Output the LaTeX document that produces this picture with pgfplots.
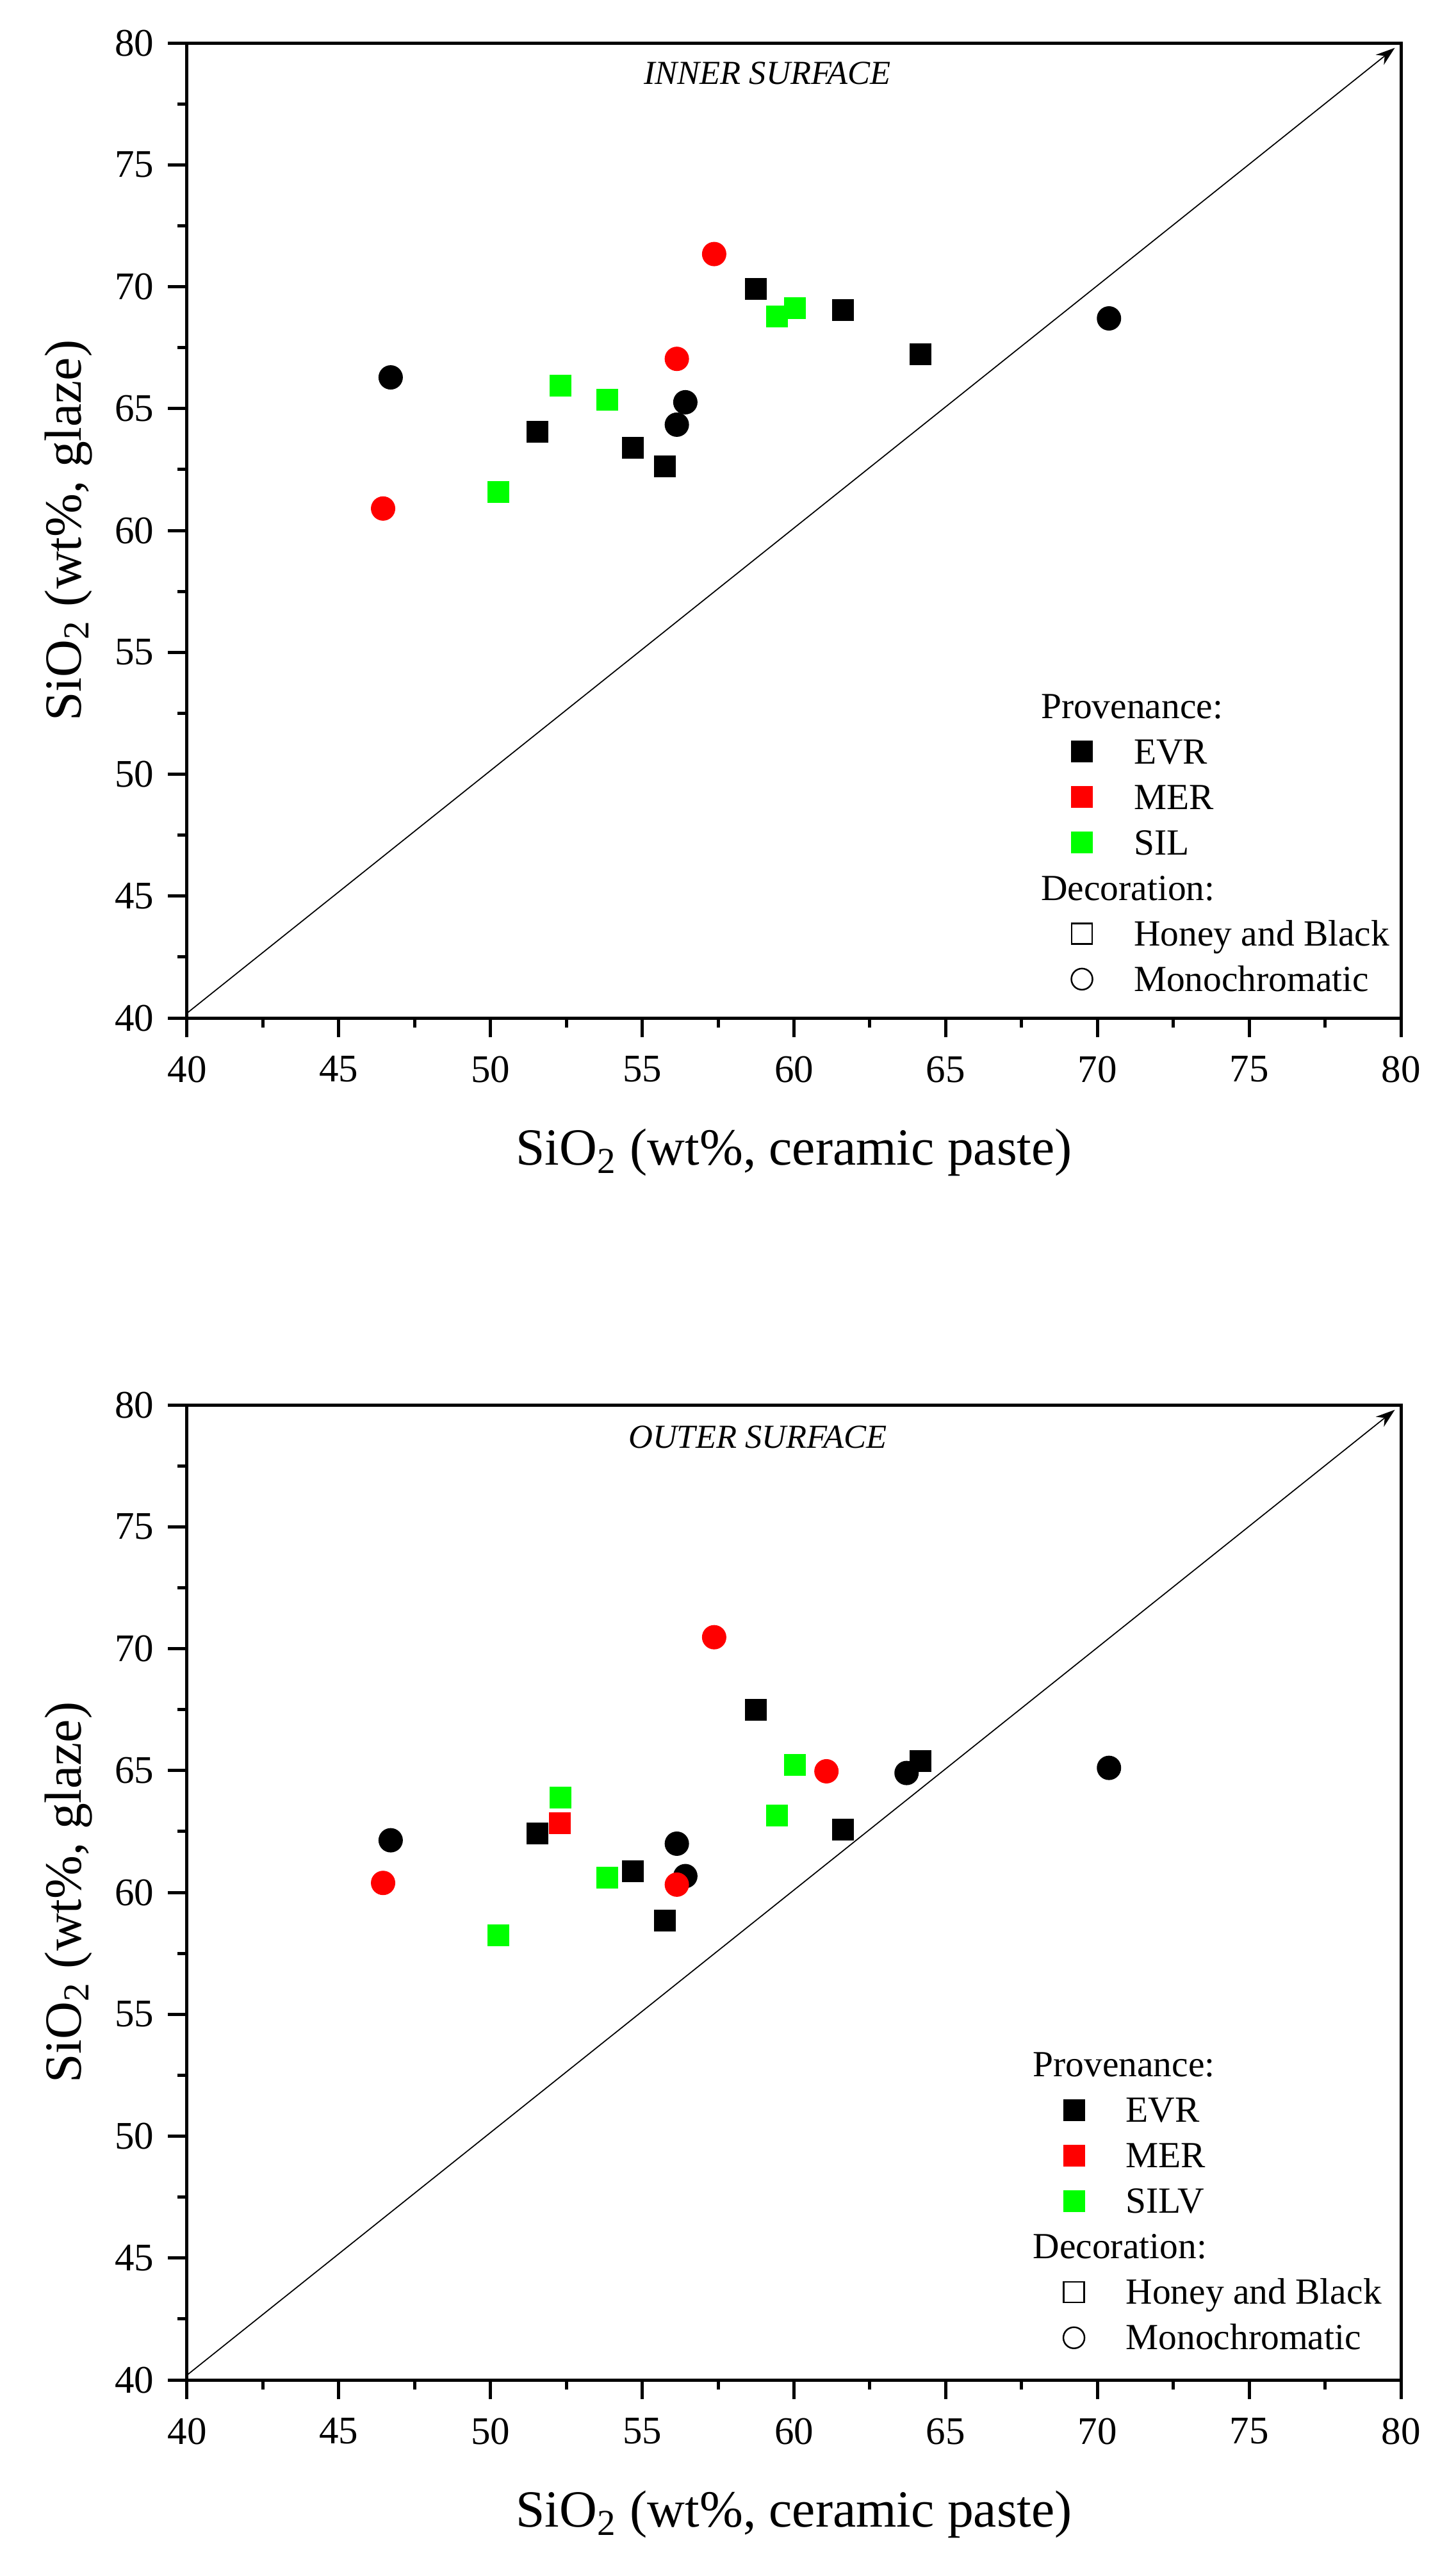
\documentclass[border=0pt]{standalone}
\usepackage{fontspec}
\setmainfont{Liberation Serif}
\usepackage{pgfplots}
\pgfplotsset{compat=1.18}
\usetikzlibrary{arrows.meta}

\definecolor{cred}{RGB}{255,0,0}
\definecolor{cgreen}{RGB}{0,255,0}

\pgfplotsset{
  sio/.style={
    scale only axis, width=379pt, height=304.4pt,
    xmin=40, xmax=80, ymin=40, ymax=80,
    xtick={40,45,...,80}, ytick={40,45,...,80},
    minor tick num=1,
    tick align=outside, xtick pos=bottom, ytick pos=left,
    major tick length=6pt, minor tick length=3pt,
    axis line style={line width=1pt},
    major tick style={line width=1pt, black},
    minor tick style={line width=1pt, black},
    tick label style={font=\fontsize{12.2}{14}\selectfont},
    xticklabel style={yshift=-2.4pt},
    yticklabel style={xshift=-0.8pt},
    /pgf/number format/assume math mode=true,
    label style={font=\fontsize{16.3}{19}\selectfont},
    xlabel={SiO\textsubscript{2} (wt\%, ceramic paste)},
    ylabel={SiO\textsubscript{2} (wt\%, glaze)},
    xlabel style={at={(axis description cs:0.5,-0.1505)}, anchor=base},
    ylabel style={at={(axis description cs:-0.0876,0.5)}, anchor=base},
    legend cell align=left,
    legend image code/.code={\draw[##1] plot coordinates {(0pt,0pt)};},
    legend style={anchor=north west, draw=none, fill=none, inner sep=0pt,
      row sep=4.7pt, font=\fontsize{11.5}{14}\selectfont,
      nodes={inner sep=0pt, text height=8.5pt, text depth=1pt},
      /tikz/every odd column/.append style={column sep=12.9pt}},
  },
  sq/.style={only marks, mark=square*, mark size=3.2pt, forget plot},
  ci/.style={only marks, mark=*, mark size=3.6pt, forget plot},
}

\newcommand{\diag}{%
  \addplot[black, line width=0.35pt, -{Stealth[length=6pt,width=4pt]}, forget plot]
    coordinates {(40,40.2) (79.8,79.8)};}
\newcommand{\legendset}[1]{%
  \addlegendimage{empty legend}\addlegendentry{\hspace*{-29pt}Provenance:}
  \addlegendimage{only marks, mark=square*, mark size=3.2pt, black}\addlegendentry{EVR}
  \addlegendimage{only marks, mark=square*, mark size=3.2pt, cred}\addlegendentry{MER}
  \addlegendimage{only marks, mark=square*, mark size=3.2pt, cgreen}\addlegendentry{#1}
  \addlegendimage{empty legend}\addlegendentry{\hspace*{-29pt}Decoration:}
  \addlegendimage{only marks, mark=square, mark size=3.2pt, black, line width=0.5pt}\addlegendentry{Honey and Black}
  \addlegendimage{only marks, mark=o, mark size=3.3pt, black, line width=0.5pt}\addlegendentry{Monochromatic}}

\begin{document}
\begin{tikzpicture}
\useasboundingbox (0pt,0pt) rectangle (454.6pt,-798.6pt);

% inner surface
\begin{axis}[sio, at={(58.4pt,-317.8pt)}, anchor=south west,
  legend style={at={(rel axis cs:0.728,0.336)}}]
\diag
\addplot[sq, black] coordinates {(51.55,64.05) (54.70,63.39) (55.74,62.62) (58.74,69.91) (61.62,69.05) (64.17,67.24)};
\addplot[ci, black] coordinates {(46.71,66.28) (56.14,64.34) (56.42,65.26) (70.38,68.70)};
\addplot[ci, cred] coordinates {(46.46,60.90) (56.14,67.04) (57.37,71.34)};
\addplot[sq, cgreen] coordinates {(50.26,61.57) (52.31,65.93) (53.84,65.36) (59.45,68.79) (60.03,69.11)};
\node[font=\fontsize{10.5}{13}\selectfont\itshape] at (rel axis cs:0.478,0.969) {INNER SURFACE};
\legendset{SIL}
\end{axis}

% outer surface
\begin{axis}[sio, at={(58.4pt,-743pt)}, anchor=south west,
  legend style={at={(rel axis cs:0.7214,0.3394)}}]
\diag
\addplot[sq, black] coordinates {(51.55,62.42) (54.70,60.88) (55.74,58.84) (58.74,67.50) (61.62,62.59) (64.17,65.39)};
\addplot[ci, black] coordinates {(46.71,62.14) (56.14,62.00) (56.42,60.67) (63.71,64.90) (70.38,65.11)};
\addplot[sq, cred] coordinates {(52.28,62.84)};
\addplot[ci, cred] coordinates {(46.46,60.39) (56.14,60.32) (57.37,70.47) (61.07,64.97)};
\addplot[sq, cgreen] coordinates {(50.26,58.25) (52.31,63.89) (53.84,60.60) (59.45,63.15) (60.03,65.22)};
\node[font=\fontsize{10.5}{13}\selectfont\itshape] at (rel axis cs:0.470,0.967) {OUTER SURFACE};
\legendset{SILV}
\end{axis}
\end{tikzpicture}
\end{document}
